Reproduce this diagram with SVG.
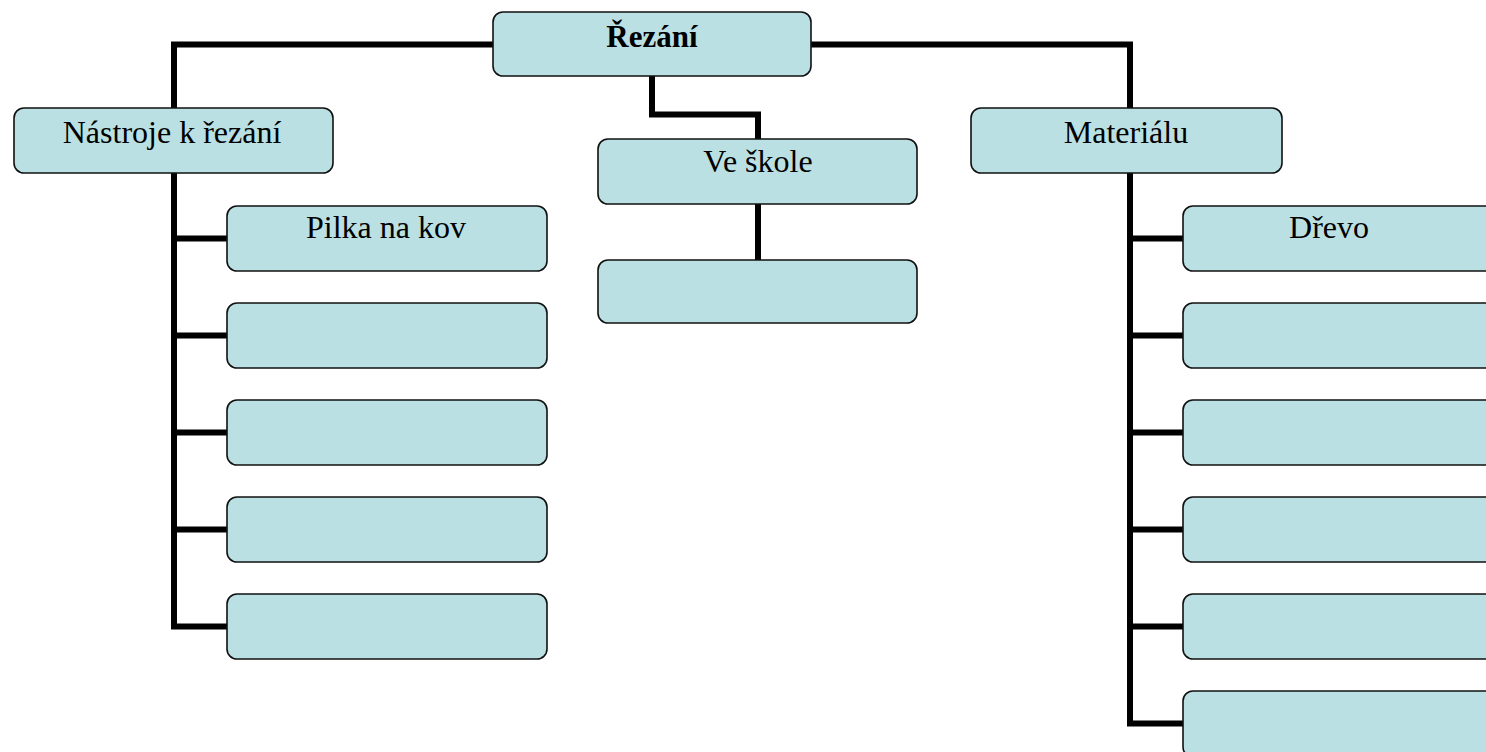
<svg xmlns="http://www.w3.org/2000/svg" width="1486" height="752" viewBox="0 0 1486 752">
  <style>
    .box { fill: #BBE0E3; stroke: #111; stroke-width: 1.6; }
    .wire { fill: none; stroke: #000; stroke-width: 6; stroke-linejoin: miter; stroke-linecap: butt; }
    .lbl { font-family: "Liberation Serif", "Times New Roman", serif; font-size: 32px; fill: #000; text-anchor: middle; }
    .bold { font-weight: bold; font-size: 31px; }
  </style>
  <rect width="1486" height="752" fill="#fff"/>

  <!-- tree connectors -->
  <g id="connectors">
    <path class="wire" d="M494,44.5 H174 V109"/>
    <path class="wire" d="M810,44.5 H1130 V109"/>
    <path class="wire" d="M652,75 V114.5 H758 V140"/>
    <path class="wire" d="M758,203 V261"/>
    <!-- tools branch -->
    <path class="wire" d="M174,172 V626.5 H228"/>
    <path class="wire" d="M174,238.5 H228"/>
    <path class="wire" d="M174,335.5 H228"/>
    <path class="wire" d="M174,432.5 H228"/>
    <path class="wire" d="M174,529.5 H228"/>
    <!-- material branch -->
    <path class="wire" d="M1130,172 V723.5 H1184"/>
    <path class="wire" d="M1130,238.5 H1184"/>
    <path class="wire" d="M1130,335.5 H1184"/>
    <path class="wire" d="M1130,432.5 H1184"/>
    <path class="wire" d="M1130,529.5 H1184"/>
    <path class="wire" d="M1130,626.5 H1184"/>
  </g>

  <g id="root">
    <rect class="box" x="493" y="12" width="318" height="64" rx="10"/>
    <text class="lbl bold" x="652" y="47">Řezání</text>
  </g>

  <g id="tools">
    <rect class="box" x="14" y="108" width="319" height="65" rx="10"/>
    <text class="lbl" x="172" y="143">Nástroje k řezání</text>
  </g>
  <g id="tool-1">
    <rect class="box" x="227" y="206" width="320" height="65" rx="10"/>
    <text class="lbl" x="386" y="238">Pilka na kov</text>
  </g>
  <g id="tool-2"><rect class="box" x="227" y="303" width="320" height="65" rx="10"/></g>
  <g id="tool-3"><rect class="box" x="227" y="400" width="320" height="65" rx="10"/></g>
  <g id="tool-4"><rect class="box" x="227" y="497" width="320" height="65" rx="10"/></g>
  <g id="tool-5"><rect class="box" x="227" y="594" width="320" height="65" rx="10"/></g>

  <g id="school">
    <rect class="box" x="598" y="139" width="319" height="65" rx="10"/>
    <text class="lbl" x="758" y="172">Ve škole</text>
  </g>
  <g id="school-1"><rect class="box" x="598" y="260" width="319" height="63" rx="10"/></g>

  <g id="materials">
    <rect class="box" x="971" y="108" width="311" height="65" rx="10"/>
    <text class="lbl" x="1126" y="143">Materiálu</text>
  </g>
  <g id="material-1">
    <rect class="box" x="1183" y="206" width="320" height="65" rx="10"/>
    <text class="lbl" x="1329" y="238">Dřevo</text>
  </g>
  <g id="material-2"><rect class="box" x="1183" y="303" width="320" height="65" rx="10"/></g>
  <g id="material-3"><rect class="box" x="1183" y="400" width="320" height="65" rx="10"/></g>
  <g id="material-4"><rect class="box" x="1183" y="497" width="320" height="65" rx="10"/></g>
  <g id="material-5"><rect class="box" x="1183" y="594" width="320" height="65" rx="10"/></g>
  <g id="material-6"><rect class="box" x="1183" y="691" width="320" height="66" rx="10"/></g>
</svg>
